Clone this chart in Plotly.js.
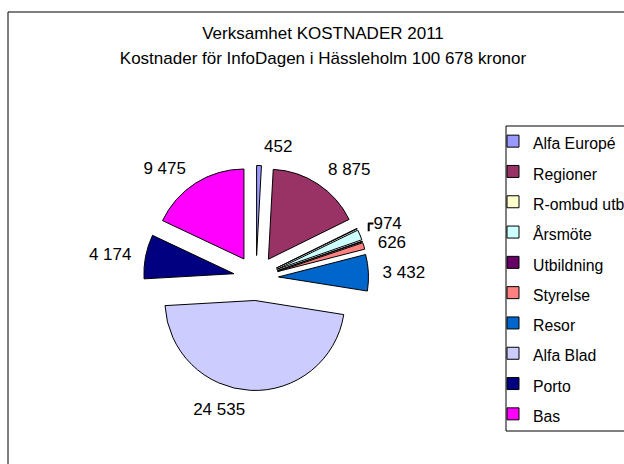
<!DOCTYPE html>
<html>
<head>
<meta charset="utf-8">
<script src="https://cdn.plot.ly/plotly-3.0.1.min.js"></script>
<style>
html,body{margin:0;padding:0;background:#fff;}
#chart{width:624px;height:464px;}
</style>
</head>
<body>
<div id="chart"></div>
<script>
// Data
const categories = ['Alfa Europé','Regioner','R-ombud utb','Årsmöte','Utbildning','Styrelse','Resor','Alfa Blad','Porto','Bas'];
const values = [452, 8875, 60, 974, 70, 626, 3432, 24535, 4174, 9475];
const showLabel = [true, true, false, true, false, true, true, true, true, true];
const colors = ['#9999FF','#993366','#FFFFCC','#CCFFFF','#660066','#FF8080','#0066CC','#CCCCFF','#000080','#FF00FF'];
const titleLine1 = 'Verksamhet KOSTNADER 2011';
const titleLine2 = 'Kostnader för InfoDagen i Hässleholm 100 678 kronor';

const W = 624, H = 464;
const FONT = 'Liberation Sans, Arial, sans-serif';
const TXT = 17;
const LEG = 15.8;
const px = x => x / W;
const py = y => 1 - y / H;
const span = (s, f) => '<span style="font-size:' + f + 'px">' + s + '</span>';

// centre of the pie in page pixels
const CX = 256, CY = 278;
const R = 90, PULL = 0.25, RLAB = 122;
const half = R * (1 + PULL);

// invisible ring that only carries the data labels further out
const labelTrace = {
  type: 'pie',
  labels: categories,
  values: values,
  sort: false,
  direction: 'clockwise',
  rotation: 0,
  marker: {colors: values.map(() => 'rgba(0,0,0,0)'), line: {width: 0}},
  textposition: 'outside',
  texttemplate: showLabel.map(s => s ? '%{value:,}' : ''),
  outsidetextfont: {family: FONT, size: TXT, color: '#000'},
  hoverinfo: 'skip',
  showlegend: false,
  domain: {x: [px(CX - RLAB), px(CX + RLAB)], y: [py(CY + RLAB), py(CY - RLAB)]},
  automargin: false
};

const trace = {
  type: 'pie',
  labels: categories.map(c => span(c, LEG)),
  values: values,
  sort: false,
  direction: 'clockwise',
  rotation: 0,
  pull: values.map(() => PULL),
  marker: {colors: colors, line: {color: '#000', width: 1}},
  textinfo: 'none',
  hoverinfo: 'label+value',
  domain: {x: [px(CX - half), px(CX + half)], y: [py(CY + half), py(CY - half)]},
  automargin: false
};

const layout = {
  width: W, height: H,
  margin: {l: 0, r: 0, t: 0, b: 0, autoexpand: false},
  paper_bgcolor: '#fff',
  separators: ', ',
  font: {family: FONT, size: TXT, color: '#000'},
  title: {
    text: span(titleLine1, TXT) + '<br>' + span(titleLine2, TXT),
    font: {family: FONT, size: 19.5, color: '#000'},
    x: px(323), xanchor: 'center', xref: 'paper',
    y: py(39), yanchor: 'top', yref: 'container'
  },
  showlegend: true,
  legend: {
    x: px(493), xanchor: 'left',
    y: py(121), yanchor: 'top',
    font: {family: FONT, size: 21, color: '#000'},
    bgcolor: 'rgba(0,0,0,0)',
    borderwidth: 0,
    traceorder: 'normal'
  },
  shapes: [
    {type: 'rect', xref: 'paper', yref: 'paper', x0: px(8), x1: 1.2, y0: -0.2, y1: py(12), line: {color: '#000', width: 1}, fillcolor: 'rgba(0,0,0,0)'},
    {type: 'rect', xref: 'paper', yref: 'paper', x0: px(506), x1: 1.2, y0: py(431), y1: py(126), line: {color: '#000', width: 1}, fillcolor: 'rgba(0,0,0,0)'}
  ]
};

Plotly.newPlot('chart', [labelTrace, trace], layout, {displayModeBar: false, staticPlot: true});
</script>
</body>
</html>
